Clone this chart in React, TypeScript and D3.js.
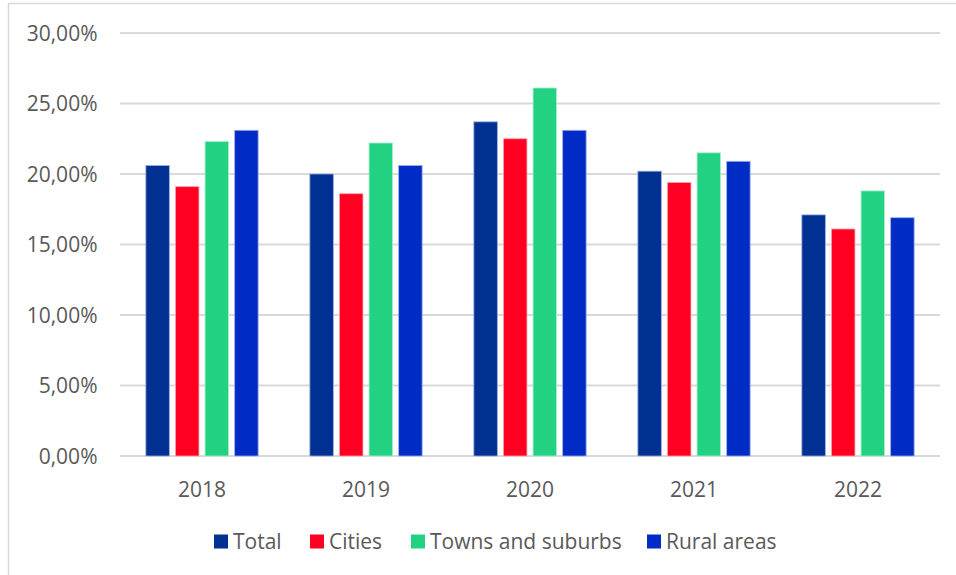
import React from "react";
import * as d3 from "d3";

const years = ["2018", "2019", "2020", "2021", "2022"];
const seriesNames = ["Total", "Cities", "Towns and suburbs", "Rural areas"];
const totalValues = [20.6, 20.0, 23.7, 20.2, 17.1];
const citiesValues = [19.1, 18.6, 22.5, 19.4, 16.1];
const townsValues = [22.3, 22.2, 26.1, 21.5, 18.8];
const ruralValues = [23.1, 20.6, 23.1, 20.9, 16.9];
const yTicks = [0, 5, 10, 15, 20, 25, 30];

const colors = ["#003092", "#ff0022", "#22d282", "#002cc6"];
const strokes = ["#9fb0d8", "#ffa0a8", "#a8efcc", "#9fb0ec"];

export default function App() {
  const W = 956, H = 575;
  const left = 120, right = 940, top = 33, bottom = 456;
  const series = [totalValues, citiesValues, townsValues, ruralValues];

  const x = d3.scaleBand<string>().domain(years).range([left, right]).paddingInner(0).paddingOuter(0);
  const y = d3.scaleLinear().domain([0, 30]).range([bottom, top]);
  const step = 29.6;
  const bw = 23.5;
  const groupW = step * 3 + bw;

  const fmt = (v: number) => v.toFixed(2).replace(".", ",") + "%";

  const legendX = [214, 310, 411, 647];

  return (
    <svg width={W} height={H} style={{ position: "absolute", left: 0, top: 0 }} fontFamily="'Open Sans', sans-serif">
      <rect x={0} y={0} width={W} height={H} fill="#fff" />
      <path d={`M8.5,${H} V3.5 H${W}`} fill="none" stroke="#d9d9d9" strokeWidth={1.5} />
      {yTicks.map((t) => (
        <g key={t}>
          <line x1={left} x2={right} y1={y(t)} y2={y(t)} stroke="#d9d9d9" strokeWidth={2} />
          <text x={97.5} y={y(t)} dy="0.36em" textAnchor="end" fontSize={21} fill="#595959">
            {fmt(t)}
          </text>
        </g>
      ))}
      {years.map((yr, i) => {
        const cx = (x(yr) as number) + x.bandwidth() / 2;
        const x0 = cx - groupW / 2;
        return (
          <g key={yr}>
            {series.map((s, k) => (
              <rect
                key={k}
                x={x0 + k * step}
                y={y(s[i])}
                width={bw}
                height={y(0) - y(s[i])}
                fill={colors[k]}
                stroke={strokes[k]}
                strokeWidth={0.8}
              />
            ))}
            <text x={cx} y={489} dy="0.36em" textAnchor="middle" fontSize={21} fill="#595959">
              {yr}
            </text>
          </g>
        );
      })}
      {seriesNames.map((n, k) => (
        <g key={n}>
          <rect x={legendX[k]} y={534.5} width={14} height={14} fill={colors[k]} />
          <text x={legendX[k] + 19} y={541.5} dy="0.36em" fontSize={21} fill="#595959">
            {n}
          </text>
        </g>
      ))}
    </svg>
  );
}
